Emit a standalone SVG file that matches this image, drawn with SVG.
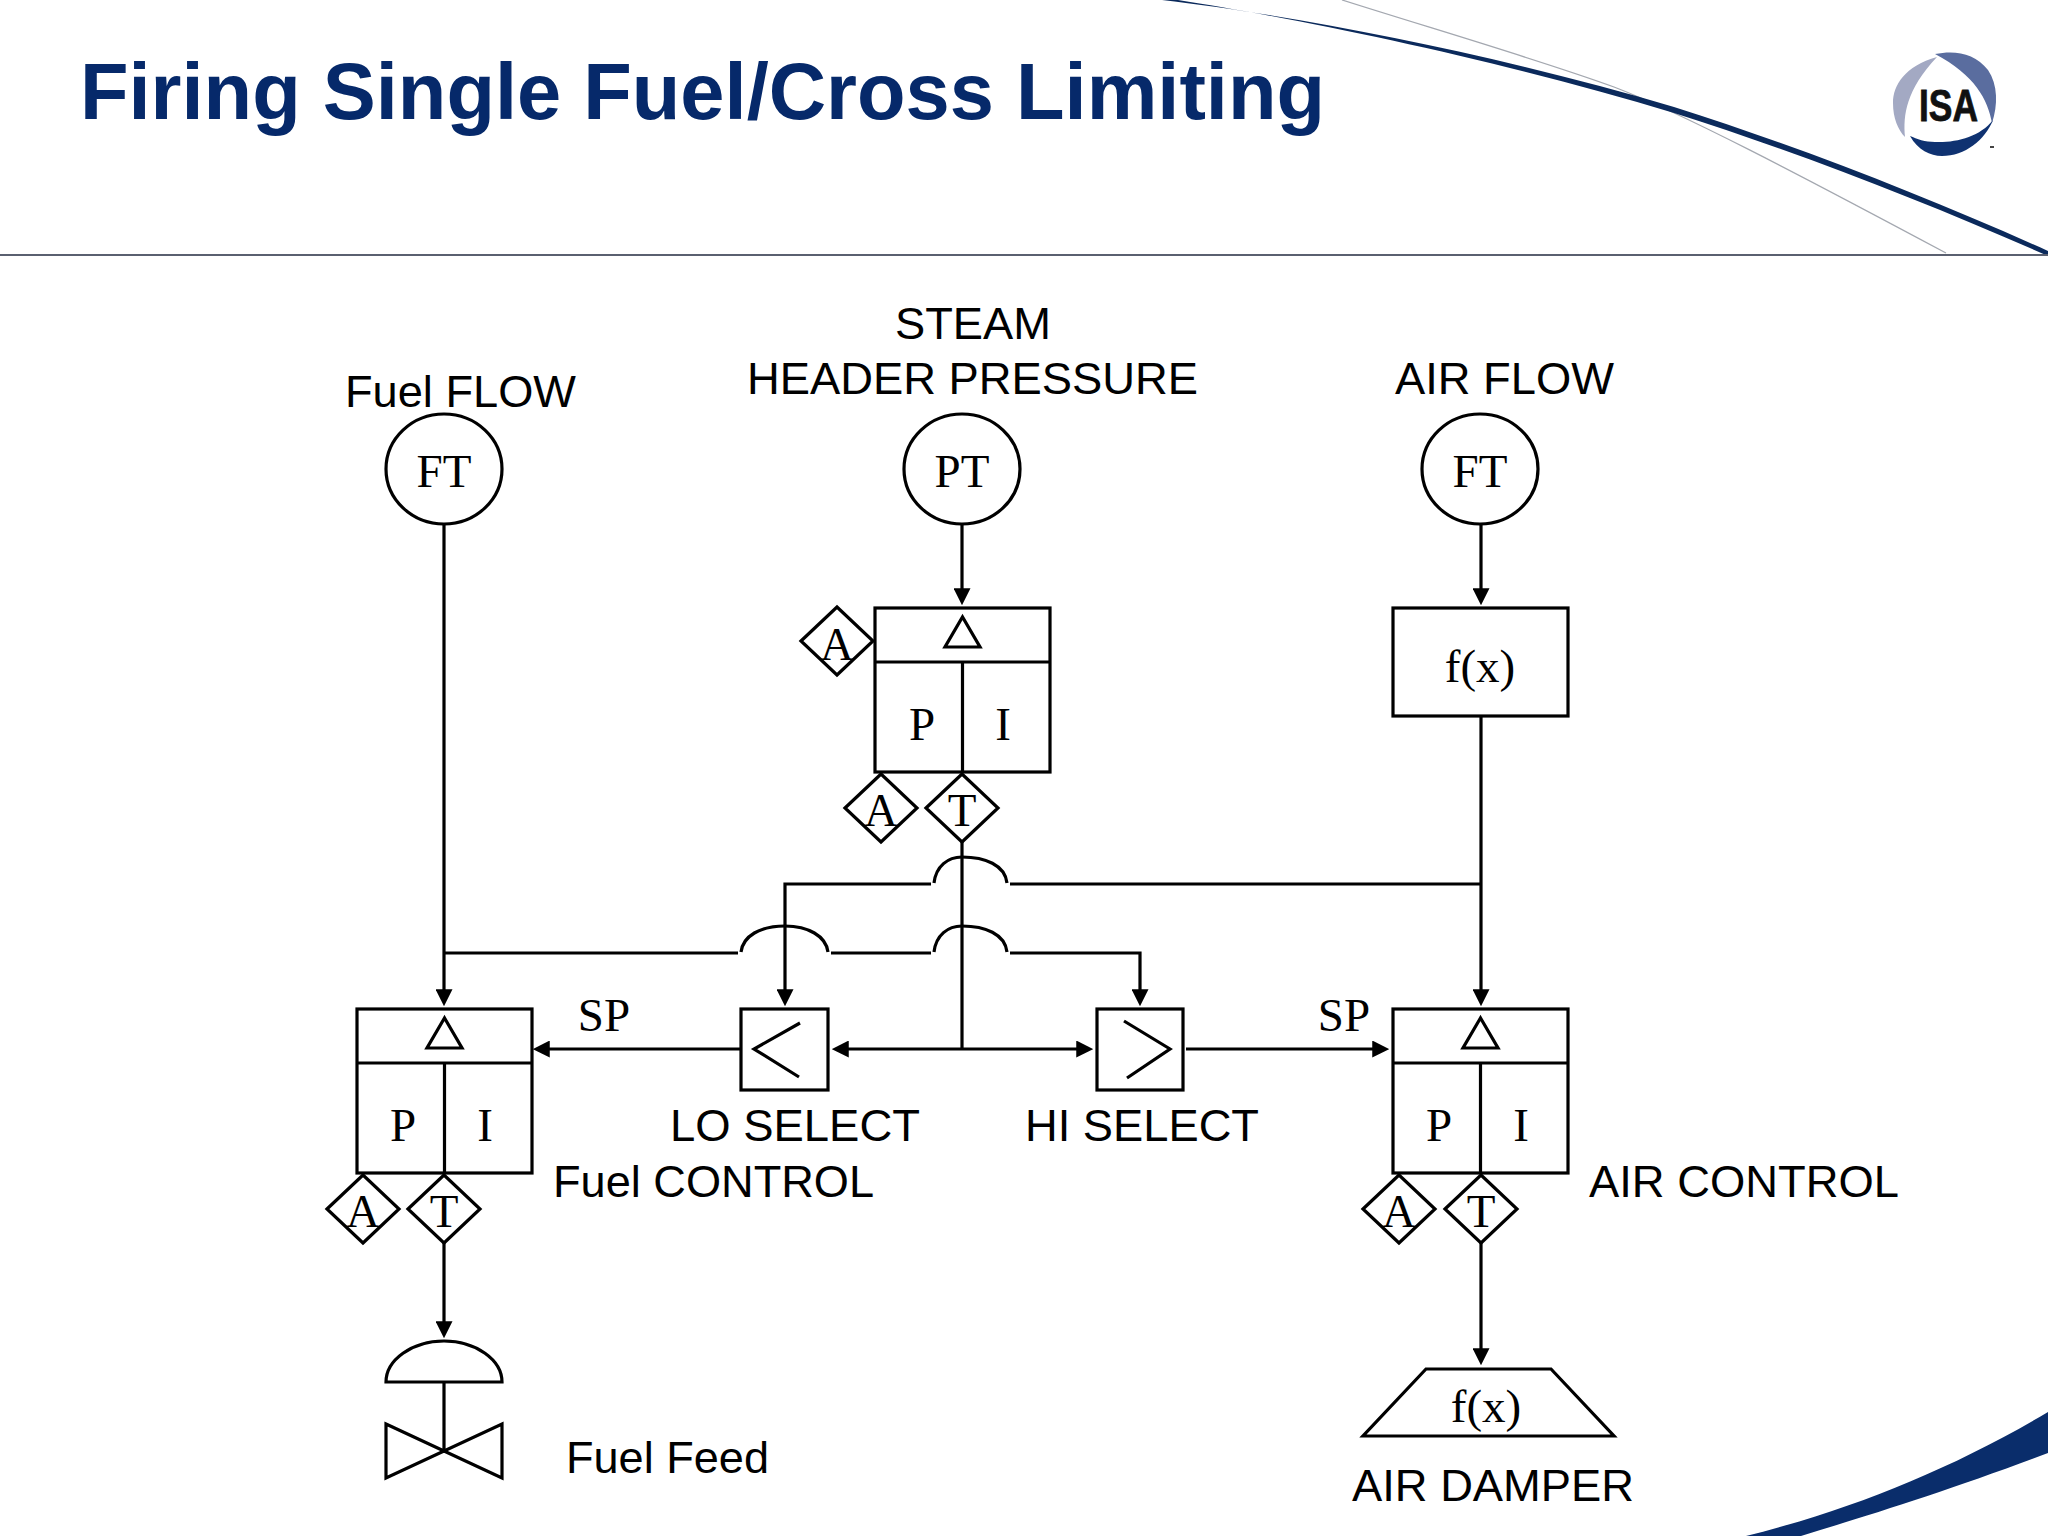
<svg xmlns="http://www.w3.org/2000/svg" width="2048" height="1536" viewBox="0 0 2048 1536">
<style>
.s{fill:none;stroke:#000;stroke-width:3.2;stroke-linejoin:miter}
.c{fill:none;stroke:#000;stroke-width:3.2}
.t{font-family:"Liberation Serif","Times New Roman",serif;font-size:47px;fill:#000;text-anchor:middle}
.a{font-family:"Liberation Sans",Arial,sans-serif;font-size:45px;fill:#000}
</style>
<defs>
<marker id="arrow" markerUnits="userSpaceOnUse" markerWidth="17" markerHeight="17" refX="12" refY="8" orient="auto" viewBox="0 0 16 16"><path d="M0,0L16,8L0,16Z" fill="#000"/></marker>
<g id="pi"><rect class="s" x="0" y="0" width="175" height="164"/><path class="s" d="M0,54H175M87.500,54V164M70,39H105L87.500,9Z"/></g>
<g id="dia"><path class="s" d="M-36,0L0,-34L36,0L0,34Z"/></g>
</defs>
<rect width="2048" height="1536" fill="#fff"/>
<g id="decor">
<path d="M1342,0C1430,28 1540,60 1614,87C1680,112 1800,175 1946,253" fill="none" stroke="#a4a8b0" stroke-width="1.3"/>
<path d="M1162,0C1300,16 1500,55 1674,107C1800,147 1930,198 2048,251V256C1930,204 1800,153 1674,113C1500,60 1300,19 1178,0Z" fill="#0b2a5c"/>
<line x1="0" y1="255" x2="2048" y2="255" stroke="#5a6070" stroke-width="2"/>
<path d="M1746,1536C1850,1510 1950,1470 2048,1412V1453C1950,1490 1870,1515 1801,1536Z" fill="#0a2d6b"/>
<text x="80" y="119" textLength="1245" lengthAdjust="spacingAndGlyphs" style="font-family:'Liberation Sans',Arial,sans-serif;font-weight:700;font-size:79px;fill:#06296a">Firing Single Fuel/Cross Limiting</text>
</g>
<g id="logo">
<path d="M1937,57C1905,66 1893,85 1893,103C1893,118 1898,130 1905,137C1903,115 1906,90 1937,57Z" fill="#a3a9c3"/>
<path d="M1935,54C1955,50 1975,53 1988,70C1998,85 1998,105 1992,123C1988,100 1975,75 1935,54Z" fill="#5a6d9f"/>
<path d="M1910,136C1918,150 1930,156 1942,156C1965,156 1985,140 1993,120C1980,137 1955,143 1935,142C1925,142 1917,139 1910,136Z" fill="#0f3271"/>
<text x="1919" y="121" textLength="59" lengthAdjust="spacingAndGlyphs" style="font-family:'Liberation Sans',Arial,sans-serif;font-weight:700;font-size:44px;fill:#111;stroke:#111;stroke-width:.8">ISA</text>
<rect x="1990" y="146" width="4" height="2" fill="#444"/>
</g>
<g id="connectors">
<path class="c" d="M444,524V1002" marker-end="url(#arrow)"/>
<path class="c" d="M962,524V601" marker-end="url(#arrow)"/>
<path class="c" d="M1481,524V601" marker-end="url(#arrow)"/>
<path class="c" d="M1481,716V1002" marker-end="url(#arrow)"/>
<path class="c" d="M962,842V1049"/>
<path class="c" d="M962,1049H836" marker-end="url(#arrow)"/>
<path class="c" d="M962,1049H1089" marker-end="url(#arrow)"/>
<path class="c" d="M741,1049H537" marker-end="url(#arrow)"/>
<path class="c" d="M1186,1049H1385" marker-end="url(#arrow)"/>
<path class="c" d="M931,884H785V1002" marker-end="url(#arrow)"/>
<path class="c" d="M1010,884H1481"/>
<path class="c" d="M934,883C936,866 948,857 962,857C985,857 1005,865 1007,883"/>
<path class="c" d="M444,953H738"/>
<path class="c" d="M741,952C743,936 760,926 785,926C808,926 826,936 828,952"/>
<path class="c" d="M831,953H931"/>
<path class="c" d="M934,952C936,935 948,926 962,926C985,926 1005,934 1007,952"/>
<path class="c" d="M1010,953H1140V1002" marker-end="url(#arrow)"/>
<path class="c" d="M444,1243V1334" marker-end="url(#arrow)"/>
<path class="c" d="M1481,1243V1361" marker-end="url(#arrow)"/>
</g>
<g id="ft-fuel"><ellipse class="s" cx="444" cy="469" rx="58" ry="55"/><text class="t" x="444" y="487">FT</text></g>
<g id="pt-steam"><ellipse class="s" cx="962" cy="469" rx="58" ry="55"/><text class="t" x="962" y="487">PT</text></g>
<g id="ft-air"><ellipse class="s" cx="1480" cy="469" rx="58" ry="55"/><text class="t" x="1480" y="487">FT</text></g>
<g id="pi-steam">
<use href="#pi" x="875" y="608"/>
<use href="#dia" x="837" y="641"/><text class="t" x="837" y="660">A</text>
<use href="#dia" x="881" y="808"/><text class="t" x="881" y="826">A</text>
<use href="#dia" x="962" y="808"/><text class="t" x="962" y="826">T</text>
<text class="t" x="922" y="740">P</text><text class="t" x="1003" y="740">I</text>
</g>
<g id="pi-fuel">
<use href="#pi" x="357" y="1009"/>
<use href="#dia" x="363" y="1209"/><text class="t" x="363" y="1227">A</text>
<use href="#dia" x="444" y="1209"/><text class="t" x="444" y="1227">T</text>
<text class="t" x="403" y="1141">P</text><text class="t" x="485" y="1141">I</text>
</g>
<g id="pi-air">
<use href="#pi" x="1393" y="1009"/>
<use href="#dia" x="1399" y="1209"/><text class="t" x="1399" y="1227">A</text>
<use href="#dia" x="1481" y="1209"/><text class="t" x="1481" y="1227">T</text>
<text class="t" x="1439" y="1141">P</text><text class="t" x="1521" y="1141">I</text>
</g>
<g id="fx"><rect class="s" x="1393" y="608" width="175" height="108"/><text class="t" x="1480" y="682">f(x)</text></g>
<g id="lo-select"><rect class="s" x="741" y="1009" width="87" height="81"/><path class="s" d="M800,1023L754,1049L799,1077"/></g>
<g id="hi-select"><rect class="s" x="1097" y="1009" width="86" height="81"/><path class="s" d="M1124,1021L1170,1049L1127,1078"/></g>
<g id="fuel-valve"><path class="s" d="M386,1382C386,1360 412,1341 444,1341C476,1341 502,1360 502,1382Z"/><path class="s" d="M444,1382V1451M386,1424L502,1478V1424L386,1478Z"/></g>
<g id="air-damper"><path class="s" d="M1426,1369H1551L1614,1436H1363Z"/><text class="t" x="1486" y="1422">f(x)</text></g>
<g id="labels">
<text class="t" x="604" y="1031">SP</text>
<text class="t" x="1344" y="1031">SP</text>
<text class="a" x="345" y="407" textLength="231" lengthAdjust="spacingAndGlyphs">Fuel FLOW</text>
<text class="a" x="895" y="339" textLength="156" lengthAdjust="spacingAndGlyphs">STEAM</text>
<text class="a" x="747" y="394" textLength="451" lengthAdjust="spacingAndGlyphs">HEADER PRESSURE</text>
<text class="a" x="1395" y="394" textLength="219" lengthAdjust="spacingAndGlyphs">AIR FLOW</text>
<text class="a" x="670" y="1141" textLength="250" lengthAdjust="spacingAndGlyphs">LO SELECT</text>
<text class="a" x="1025" y="1141" textLength="234" lengthAdjust="spacingAndGlyphs">HI SELECT</text>
<text class="a" x="553" y="1197" textLength="321" lengthAdjust="spacingAndGlyphs">Fuel CONTROL</text>
<text class="a" x="1589" y="1197" textLength="310" lengthAdjust="spacingAndGlyphs">AIR CONTROL</text>
<text class="a" x="566" y="1473" textLength="203" lengthAdjust="spacingAndGlyphs">Fuel Feed</text>
<text class="a" x="1352" y="1501" textLength="282" lengthAdjust="spacingAndGlyphs">AIR DAMPER</text>
</g>
</svg>
